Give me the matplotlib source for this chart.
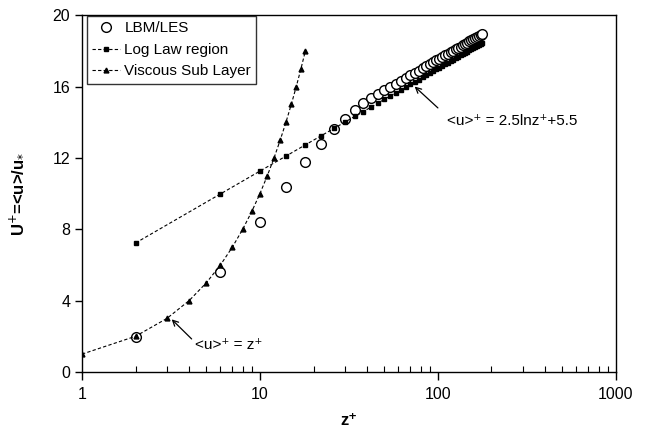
import matplotlib.pyplot as plt
from matplotlib.ticker import FixedLocator, NullFormatter, LogLocator

plt.rcParams['font.family'] = ['Liberation Sans', 'DejaVu Sans']

# LBM/LES 结果
z_les = [2, 6, 10, 14, 18, 22, 26, 30, 34, 38, 42, 46, 50, 54, 58, 62, 66, 70, 74, 78,
         82, 86, 90, 94, 98, 102, 106, 110, 114, 118, 122, 126, 130, 134, 138, 142,
         146, 150, 154, 158, 162, 166, 170, 174, 178]
u_les = [1.95, 5.6, 8.4, 10.35, 11.75, 12.75, 13.6, 14.2, 14.7, 15.05, 15.35, 15.57,
         15.78, 15.97, 16.15, 16.32, 16.47, 16.62, 16.76, 16.89, 17.02, 17.14, 17.25,
         17.36, 17.46, 17.56, 17.66, 17.75, 17.84, 17.93, 18.01, 18.09, 18.17, 18.24,
         18.32, 18.39, 18.46, 18.53, 18.59, 18.66, 18.72, 18.78, 18.84, 18.90, 18.95]

# 对数律区
z_log = z_les
u_log = [7.23, 9.98, 11.26, 12.10, 12.73, 13.23, 13.65, 14.00, 14.32, 14.59, 14.84,
         15.07, 15.28, 15.47, 15.65, 15.82, 15.97, 16.12, 16.26, 16.39, 16.52, 16.64,
         16.75, 16.86, 16.96, 17.06, 17.16, 17.25, 17.34, 17.43, 17.51, 17.59, 17.67,
         17.74, 17.82, 17.89, 17.96, 18.03, 18.09, 18.16, 18.22, 18.28, 18.34, 18.40, 18.45]

# 粘性底层
z_vis = [1, 2, 3, 4, 5, 6, 7, 8, 9, 10, 11, 12, 13, 14, 15, 16, 17, 18]
u_vis = [1, 2, 3, 4, 5, 6, 7, 8, 9, 10, 11, 12, 13, 14, 15, 16, 17, 18]

fig = plt.figure(figsize=(6.51, 4.33), dpi=100)
ax = fig.add_axes([0.126, 0.141, 0.820, 0.824])

ax.plot(z_les, u_les, 'o', mfc='white', mec='black', ms=7, mew=1.0, label='LBM/LES')
ax.plot(z_log, u_log, color='black', linestyle='--', dashes=(3, 2), linewidth=0.8,
        marker='s', ms=3.5, label='Log Law region')
ax.plot(z_vis, u_vis, color='black', linestyle='--', dashes=(3, 2), linewidth=0.8,
        marker='^', ms=3.5, label='Viscous Sub Layer')

ax.set_xscale('log')
ax.set_xlim(1, 1000)
ax.set_ylim(0, 20)
ax.set_yticks([0, 4, 8, 12, 16, 20])
ax.xaxis.set_major_locator(FixedLocator([1, 10, 100, 1000]))
ax.set_xticklabels(['1', '10', '100', '1000'])
ax.xaxis.set_minor_locator(LogLocator(base=10, subs=range(2, 10)))
ax.xaxis.set_minor_formatter(NullFormatter())
ax.tick_params(axis='x', which='major', direction='out', length=6, width=1, labelsize=11.5, pad=5)
ax.tick_params(axis='x', which='minor', direction='in', length=4, width=0.8)
ax.tick_params(axis='y', which='major', direction='out', length=5, width=1, labelsize=11.5)
for s in ax.spines.values():
    s.set_linewidth(1.0)

ax.set_xlabel('z⁺', fontsize=12, fontweight='bold', labelpad=8)
ax.set_ylabel('U$^{+}$=<u>/u$_{*}$', fontsize=12, fontweight='bold', labelpad=20)

# 标注
ax.text(112, 14.05, '<u>⁺ = 2.5lnz⁺+5.5', fontsize=11, ha='left', va='center')
ax.annotate('', xy=(74, 16.0), xytext=(100, 14.8),
            arrowprops=dict(arrowstyle='->', color='black', lw=0.9, shrinkA=0, shrinkB=0))
ax.text(4.3, 1.5, '<u>⁺ = z⁺', fontsize=11, ha='left', va='center')
ax.annotate('', xy=(3.19, 2.95), xytext=(4.13, 1.85),
            arrowprops=dict(arrowstyle='->', color='black', lw=0.9, shrinkA=0, shrinkB=0))

leg = ax.legend(loc='upper left', bbox_to_anchor=(0.009, 0.998), borderaxespad=0,
                fontsize=11, frameon=True, fancybox=False, edgecolor='black',
                handlelength=1.8, handletextpad=0.3, labelspacing=0.5, borderpad=0.35)
leg.get_frame().set_linewidth(1.0)

fig.savefig('out.png', dpi=100)
